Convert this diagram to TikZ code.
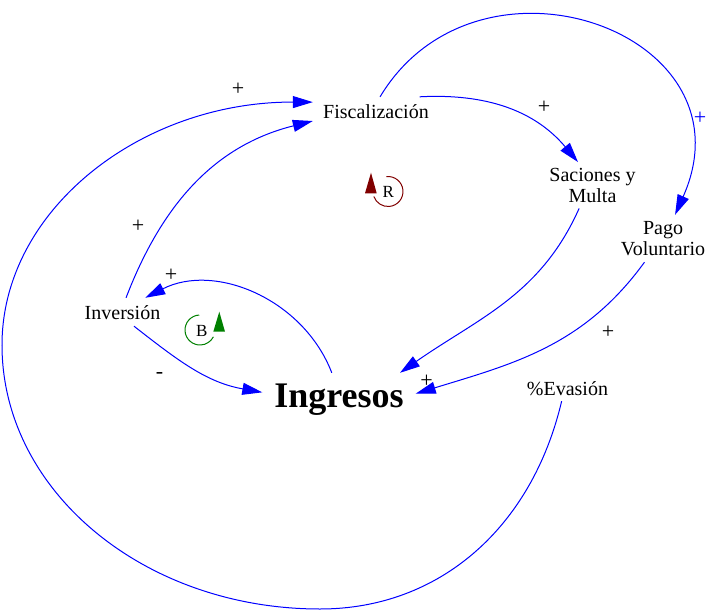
\documentclass[tikz,border=0pt]{standalone}
\usepackage{fontspec}
\setmainfont{Liberation Serif}
\usetikzlibrary{arrows.meta}

\tikzset{
 var/.style={font=\fontsize{20}{21}\selectfont, align=center, inner sep=0pt},
 link/.style={blue, line width=1pt, -{Triangle[length=20pt,width=12pt]}},
 sign/.style={font=\fontsize{22}{22}\selectfont, inner sep=0pt},
}

\begin{document}
\begin{tikzpicture}[x=1pt,y=1pt]
 \useasboundingbox (0,0) rectangle (707,-610);

 \node[var,minimum width=126,minimum height=28,text height=14pt,text depth=0pt] (fisc) at (376,-111) {Fiscalización};
 \node[var,minimum width=104,minimum height=46] (sac) at (592.5,-185.25) {Saciones y\\Multa};
 \node[var,minimum width=104,minimum height=47] (pago) at (663,-238.5) {Pago\\Voluntario};
 \node[var,minimum width=92,minimum height=28,text height=14pt,text depth=0pt] (inv) at (122.5,-312) {Inversión};
 \node[var,minimum width=96,minimum height=26,text height=14pt,text depth=0pt] (evas) at (567.5,-388) {\%Evasión};
 \node[var,font=\fontsize{36}{40}\selectfont\bfseries,minimum width=153,minimum height=44,text height=25.4pt,text depth=0pt] (ing) at (339,-395) {Ingresos};

 \path[link]
 (fisc.18) edge[out=3,in=130] (sac.122)
 (fisc.74) edge[out=59,in=66,out distance=190pt,in distance=200pt] (pago.63)
 (sac.240) edge[out=246,in=35] (ing.20)
 (pago.232) edge[out=234,in=17] (ing.1)
 (ing.108) edge[out=111,in=27] (inv.32)
 (inv.-51) edge[out=-38,in=170] (ing.178)
 (inv.76) edge[out=69,in=194] (fisc.189)
 ;
 \draw[link] (evas.246) .. controls (532,-527) and (440,-609) .. (320,-609)
  .. controls (144,-609) and (2,-491) .. (2,-345)
  .. controls (2,-210) and (141,-101.7) .. (fisc.172);

 % polarities
 \node[sign] (s1) at (238,-89) {+};
 \node[sign] (s2) at (544,-107) {+};
 \node[sign,blue] (s3) at (700,-118) {+};
 \node[sign] (s4) at (138,-226) {+};
 \node[sign] (s5) at (171,-275) {+};
 \node[sign] (s6) at (608,-332) {+};
 \node[sign] (s7) at (426.5,-381) {+};
 \node[sign] (s8) at (159.5,-375) {-};

 % loops
 \draw[red!50!black,line width=1pt] (388,-191.5) ++(96:15) arc[start angle=96,end angle=-160.5,radius=15];
 \fill[red!50!black] (371,-172.7) -- (365,-193.3) -- (376.7,-193.3) -- cycle;
 \node[font=\fontsize{17}{17}\selectfont] (r) at (388.3,-191.7) {R};
 \draw[green!50!black,line width=1pt] (200,-330) ++(93:15) arc[start angle=93,end angle=333,radius=15];
 \fill[green!50!black] (219.3,-311.7) -- (213.3,-331.7) -- (225,-331.7) -- cycle;
 \node[font=\fontsize{17}{17}\selectfont] (b) at (201.7,-330.7) {B};
\end{tikzpicture}
\end{document}
